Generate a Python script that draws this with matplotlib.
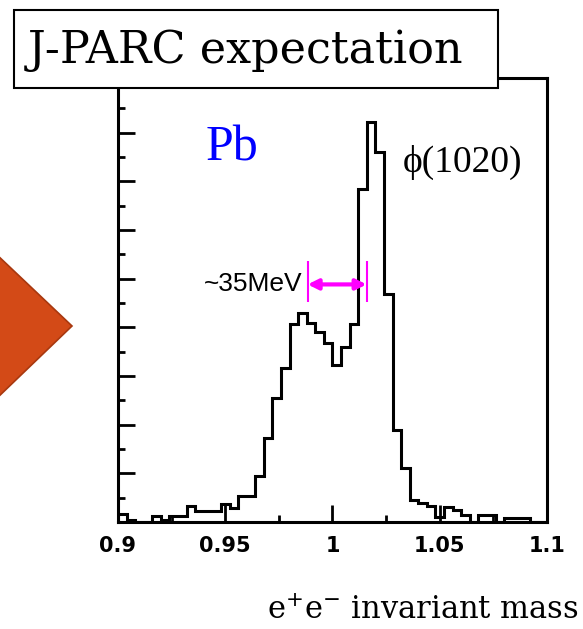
import numpy as np
import matplotlib.pyplot as plt
from matplotlib.patches import Polygon, Rectangle

# e+e- invariant mass spectrum, 50 bins of 4 MeV between 0.9 and 1.1 GeV
mass_lo, mass_hi, n_bins = 0.9, 1.1, 50
counts = [16, 4, 0, 0, 13, 4, 13, 13, 32, 22,
          22, 22, 38, 28, 54, 54, 95, 173, 255, 316,
          407, 429, 409, 391, 368, 323, 359, 407, 683, 821,
          759, 469, 190, 110, 45, 39, 32, 10, 30, 24,
          15, 0, 15, 15, 0, 8, 8, 8, 0, 0]

x_ticks = [0.9, 0.95, 1.0, 1.05, 1.1]
x_tick_labels = ["0.9", "0.95", "1", "1.05", "1.1"]

# width marker between the two peaks
width_lo, width_hi, width_level = 0.9884, 1.0159, 488

W, H = 583, 629


def px(x, y):
    """pixel position -> figure fraction"""
    return x / W, 1 - y / H


fig = plt.figure(figsize=(W / 100, H / 100), dpi=100)
ax = fig.add_axes([118 / W, 1 - 522 / H, 429 / W, 444 / H])

edges = np.linspace(mass_lo, mass_hi, n_bins + 1)
ax.stairs(counts, edges, color="black", lw=2.2)

ax.set_xlim(mass_lo, mass_hi)
ax.set_ylim(0, 912)

ax.set_xticks(x_ticks)
ax.set_xticklabels(x_tick_labels, fontfamily="DejaVu Sans", fontweight="bold",
                   fontsize=15)
ax.set_xticks(np.arange(0.925, 1.1, 0.05), minor=True)
ax.set_yticks(np.arange(100, 900, 100))
ax.set_yticks(np.arange(50, 900, 100), minor=True)
ax.tick_params(which="both", direction="in", width=2.0, top=False, right=False,
               labelleft=False)
ax.tick_params(which="major", length=12, pad=10)
ax.tick_params(which="minor", length=5)
for sp in ax.spines.values():
    sp.set_linewidth(2.2)

# ~35 MeV width marker
ax.vlines([width_lo, width_hi], 451, 537, color="magenta", lw=1.5)
ax.annotate("", xy=(width_hi, width_level), xytext=(width_lo, width_level),
            arrowprops=dict(arrowstyle="<|-|>", color="magenta", lw=3,
                            mutation_scale=15, shrinkA=0, shrinkB=0))
ax.text(0.9862, width_level, "~35MeV", ha="right", va="center",
        fontfamily="Liberation Sans", fontsize=19)

ax.text(0.9406, 742, "Pb", color="#0000ff", fontfamily="Liberation Serif",
        fontsize=36, ha="left", va="baseline")
ax.text(1.0329, 720, "\u03d5(1020)", color="black", fontfamily="Liberation Serif",
        fontsize=27, ha="left", va="baseline")

# orange arrow head on the left edge
tri = Polygon([px(-5, 253), px(72, 326), px(-5, 400)], closed=True,
              transform=fig.transFigure, facecolor="#d34a17",
              edgecolor="#a8380f", lw=1.2, zorder=3)
fig.add_artist(tri)

# title box on top of the frame
x0, y0 = px(14, 88)
x1, y1 = px(498, 10)
box = Rectangle((x0, y0), x1 - x0, y1 - y0, transform=fig.transFigure,
                facecolor="white", edgecolor="black", lw=1.5, zorder=5)
fig.add_artist(box)
fig.text(*px(246, 50), "J-PARC expectation", ha="center", va="center",
         fontfamily="DejaVu Serif", fontsize=32, zorder=6)

fig.text(*px(579, 619), "e$^{+}$e$^{-}$ invariant mass", ha="right",
         va="baseline", fontfamily="DejaVu Serif", fontsize=22)

fig.savefig("out.png", dpi=100)
